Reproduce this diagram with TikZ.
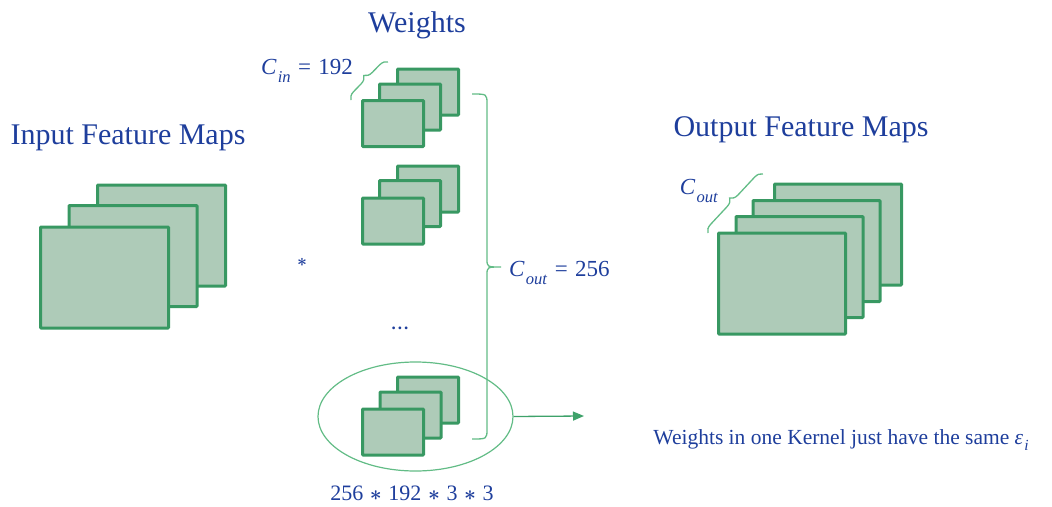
\documentclass[tikz,border=0pt]{standalone}
\usepackage{amsmath}
\usepackage{fontspec}
\setmainfont{Liberation Serif}
\usetikzlibrary{shapes.geometric,decorations.pathreplacing,arrows.meta}
\definecolor{mapedge}{RGB}{56,152,98}
\definecolor{mapfill}{RGB}{174,203,184}
\definecolor{braceline}{RGB}{98,188,134}
\definecolor{arrowgreen}{RGB}{62,162,106}
\definecolor{inkblue}{RGB}{30,62,156}
% symbol with a subscript, set in the text font
\newcommand{\symsub}[2]{\textit{#1}\kern0.05em\raisebox{-0.32em}{\fontsize{0.72\fontdimen6\font}{1em}\selectfont\textit{#2}}}
\newcommand{\opast}{\ensuremath{\boldsymbol{\ast}}}
\newcommand{\releq}{\hspace{0.32em}=\hspace{0.32em}}
\begin{document}
\begin{tikzpicture}[x=1pt,y=-1pt,
  fmap/.style={draw=mapedge, fill=mapfill, line width=3pt, minimum width=128pt,
    minimum height=101pt, inner sep=0pt, outer sep=0pt, rounded corners=0.8pt},
  kmap/.style={fmap, minimum width=61pt, minimum height=46pt},
  omap/.style={fmap, minimum width=127pt, minimum height=101pt},
  title/.style={text=inkblue, font=\fontsize{30}{34}\selectfont, inner sep=0pt, anchor=base},
  lbl/.style={text=inkblue, font=\fontsize{23}{26}\selectfont, inner sep=0pt},
  bracestyle/.style={draw=braceline, line width=1.3pt, decorate,
    decoration={brace, amplitude=8pt}},
  bigbrace/.style={draw=braceline, line width=1.3pt}]
\useasboundingbox (0,0) rectangle (1052,506);

% titles
\node[title] (ttlw) at (417,32) {Weights};
\node[title] (ttlin) at (128,144) {Input Feature Maps};
\node[title] (ttlout) at (801,136) {Output Feature Maps};

% input feature maps
\node[fmap] (in3) at (161.5,235.5) {};
\node[fmap] (in2) at (133,256) {};
\node[fmap] (in1) at (104.5,277.5) {};

% convolution operator
\node[lbl, font=\fontsize{18}{22}\selectfont] (conv) at (302,262) {\opast};

% first kernel
\node[kmap] (ka3) at (428,92) {};
\node[kmap] (ka2) at (410,107) {};
\node[kmap] (ka1) at (393,123.5) {};
% second kernel
\node[kmap] (kb3) at (428,189) {};
\node[kmap] (kb2) at (410,203.5) {};
\node[kmap] (kb1) at (393,221) {};
% ellipsis
\node[lbl, font=\fontsize{17}{20}\selectfont] (more) at (400,328) {\textbf{.\kern0.12em.\kern0.12em.}};
% last kernel
\node[draw=braceline, line width=1.2pt, ellipse, minimum width=195pt,
  minimum height=109pt, inner sep=0pt] (ker) at (415.5,416.5) {};
\node[kmap] (kc3) at (428,400) {};
\node[kmap] (kc2) at (410.5,415) {};
\node[kmap] (kc1) at (393,432) {};

% input channel brace
\coordinate (cinA) at (351,100);
\coordinate (cinB) at (388,62);
\draw[bracestyle] (cinA) -- (cinB);
\node[lbl] (cin) at (307,71) {\symsub{C}{in}\releq192};

% output channel brace over all kernels
\coordinate (bt) at (472,94);
\coordinate (bb) at (472,439);
\coordinate (bm) at (501,267);
\draw[bigbrace] (bt) .. controls (487,94) .. (487,104) -- (487,259)
  .. controls (487,267) .. (bm) .. controls (487,267) .. (487,275)
  -- (487,429) .. controls (487,439) .. (bb);
\node[lbl, anchor=west] (cout) at (509,273) {\symsub{C}{out}\releq256};

% size of the weight tensor
\node[lbl, font=\fontsize{22}{25}\selectfont] (wsize) at (412,493)
  {256\hspace{0.3em}\opast\hspace{0.3em}192\hspace{0.3em}\opast\hspace{0.3em}3\hspace{0.3em}\opast\hspace{0.3em}3};

% arrow from one kernel
\coordinate (arrowtip) at (584,416);
\draw[arrowgreen, line width=1.3pt, -{Triangle[length=11pt,width=9pt]}] (ker.east) -- (arrowtip);

% output feature maps
\node[omap] (out4) at (838,234.5) {};
\node[omap] (out3) at (816.5,251) {};
\node[omap] (out2) at (799.5,267) {};
\node[omap] (out1) at (782,283.5) {};

% output channel brace
\coordinate (coA) at (708,233);
\coordinate (coB) at (763,174);
\draw[bracestyle] (coA) -- (coB);
\node[lbl] (coutlbl) at (699,191) {\symsub{C}{out}};

% note
\node[text=inkblue, font=\fontsize{21.5}{25}\selectfont, inner sep=0pt] (note) at (841,440)
  {Weights in one Kernel just have the same \symsub{ε}{i}};
\end{tikzpicture}
\end{document}
